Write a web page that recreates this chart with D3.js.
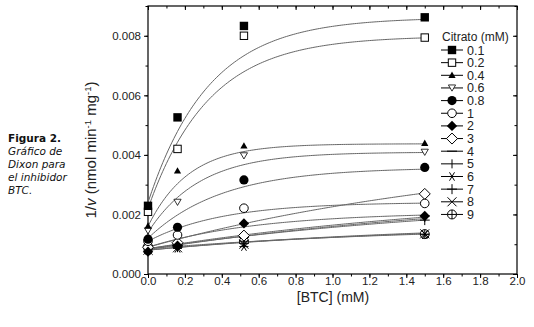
<!DOCTYPE html>
<html><head><meta charset="utf-8">
<script src="https://cdn.jsdelivr.net/npm/d3@7"></script>
<style>
body{margin:0;background:#fff;}
svg{display:block;}
</style></head><body>
<svg id="c" width="534" height="327"></svg>
<script>
// ---- data ----
const xValues = [0, 0.16, 0.52, 1.5];
const citrato = ["0.1","0.2","0.4","0.6","0.8","1","2","3","4","5","6","7","8","9"];
const symbols = ["sqF","sqO","triF","triDO","cirF","cirO","diaF","diaO","dash","vbar","star","plus","cross","cplus"];
const s01 = [0.00229, 0.00526, 0.00833, 0.00862];
const s02 = [0.00209, 0.00420, 0.00800, 0.00794];
const s04 = [0.00161, 0.00346, 0.00430, 0.00439];
const s06 = [0.00145, 0.00241, 0.00397, 0.00409];
const s08 = [0.00117, 0.00157, 0.00316, 0.00358];
const s1  = [0.00110, 0.00131, 0.00221, 0.00237];
const s2  = [0.00075, 0.00095, 0.00170, 0.00195];
const s3  = [0.00090, 0.00105, 0.00129, 0.00269];
const s4  = [0.00085, 0.00095, 0.00123, 0.00195];
const s5  = [0.00080, 0.00090, 0.00110, 0.00190];
const s6  = [0.00080, 0.00086, 0.00092, 0.00132];
const s7  = [0.00085, 0.00090, 0.00103, 0.00181];
const s8  = [0.00080, 0.00088, 0.00100, 0.00135];
const s9  = [0.00092, 0.00097, 0.00110, 0.00134];
const seriesValues = [s01,s02,s04,s06,s08,s1,s2,s3,s4,s5,s6,s7,s8,s9];
// fitted curves: value at 0, value at 1.5, curvature constant
const fitStart = [0.0024,0.0022,0.0016,0.0014,0.0012,0.0011,0.0009,0.0009,0.00085,0.00082,0.0008,0.00085,0.0008,0.00085];
const fitEnd   = [0.00855,0.00793,0.00437,0.00408,0.00352,0.00238,0.00198,0.00272,0.00191,0.00186,0.00138,0.00181,0.00136,0.00134];
const fitK     = [0.33,0.33,0.22,0.28,0.4,0.4,0.6,2,2,2,1.5,2,1.5,1.5];
const xTicks = [0,0.2,0.4,0.6,0.8,1.0,1.2,1.4,1.6,1.8,2.0];
const yTicks = [0,0.002,0.004,0.006,0.008];
const captionLines = ["Gráfico de","Dixon para","el inhibidor","BTC."];

// ---- drawing ----
const svg = d3.select("#c");
const L=148,R=517,T=6,B=274;
const x = d3.scaleLinear().domain([0,2]).range([L,R]);
const y = d3.scaleLinear().domain([0,0.009]).range([B,T]);
const font = "'Liberation Sans', Arial, sans-serif";
const tcol = "#222";

// frame
svg.append("rect").attr("x",L).attr("y",T).attr("width",R-L).attr("height",B-T)
  .attr("fill","none").attr("stroke","#000").attr("stroke-width",1.2);

function styleAxis(g){
  g.select(".domain").remove();
  g.selectAll("line").attr("stroke","#000").attr("stroke-width",1);
  g.selectAll("text").attr("font-family",font).attr("font-size",11.5).attr("fill",tcol);
}
const xMinor = d3.range(0,2.001,0.1);
const yMinor = d3.range(0,0.00901,0.001);
// bottom
const xb = svg.append("g").attr("transform",`translate(0,${B})`)
  .call(d3.axisBottom(x).tickValues(xTicks).tickFormat(d3.format(".1f")).tickSize(4)).call(styleAxis);
xb.selectAll("text").attr("y",3);
svg.append("g").attr("transform",`translate(0,${B})`)
  .call(d3.axisBottom(x).tickValues(xMinor).tickFormat("").tickSize(2.5)).call(styleAxis);
// top (inward)
svg.append("g").attr("transform",`translate(0,${T})`)
  .call(d3.axisTop(x).tickValues(xTicks).tickFormat("").tickSize(-4)).call(styleAxis);
svg.append("g").attr("transform",`translate(0,${T})`)
  .call(d3.axisTop(x).tickValues(xMinor).tickFormat("").tickSize(-2.5)).call(styleAxis);
// left
svg.append("g").attr("transform",`translate(${L},0)`)
  .call(d3.axisLeft(y).tickValues(yTicks).tickFormat(d3.format(".3f")).tickSize(4).tickPadding(3)).call(styleAxis);
svg.append("g").attr("transform",`translate(${L},0)`)
  .call(d3.axisLeft(y).tickValues(yMinor).tickFormat("").tickSize(2.5)).call(styleAxis);
// right (inward)
svg.append("g").attr("transform",`translate(${R},0)`)
  .call(d3.axisRight(y).tickValues(yTicks).tickFormat("").tickSize(-4)).call(styleAxis);
svg.append("g").attr("transform",`translate(${R},0)`)
  .call(d3.axisRight(y).tickValues(yMinor).tickFormat("").tickSize(-2.5)).call(styleAxis);

// fit curves
const line = d3.line().x(d=>x(d[0])).y(d=>y(d[1])).curve(d3.curveLinear);
citrato.forEach((c,i)=>{
  const k=fitK[i], a=fitStart[i], A=(fitEnd[i]-a)/(1-Math.exp(-1.5/k));
  const pts = d3.range(0,1.5001,0.01).map(t=>[t, a + A*(1-Math.exp(-t/k))]);
  svg.append("path").attr("d",line(pts)).attr("fill","none").attr("stroke","#666").attr("stroke-width",1);
});

// marker drawing
function marker(g, type, cx, cy){
  const s=4.2, sw=1;
  const st = {stroke:"#000","stroke-width":sw};
  function ap(el, attrs){ const e=g.append(el); for(const k in attrs) e.attr(k,attrs[k]); return e; }
  switch(type){
    case "sqF": ap("rect",{x:cx-s,y:cy-s,width:2*s,height:2*s,fill:"#000"}); break;
    case "sqO": ap("rect",{x:cx-s+0.5,y:cy-s+0.5,width:2*s-1,height:2*s-1,fill:"#fff",...st}); break;
    case "triF": ap("path",{d:`M${cx},${cy-3.8}L${cx+3.6},${cy+2.6}L${cx-3.6},${cy+2.6}Z`,fill:"#000"}); break;
    case "triDO": ap("path",{d:`M${cx},${cy+3.2}L${cx+3.6},${cy-3}L${cx-3.6},${cy-3}Z`,fill:"#fff",stroke:"#000","stroke-width":0.8}); break;
    case "cirF": ap("circle",{cx:cx,cy:cy,r:4.6,fill:"#000"}); break;
    case "cirO": ap("circle",{cx:cx,cy:cy,r:4.3,fill:"#fff",...st}); break;
    case "diaF": ap("path",{d:`M${cx},${cy-5.2}L${cx+5.2},${cy}L${cx},${cy+5.2}L${cx-5.2},${cy}Z`,fill:"#000"}); break;
    case "diaO": ap("path",{d:`M${cx},${cy-5.5}L${cx+5.5},${cy}L${cx},${cy+5.5}L${cx-5.5},${cy}Z`,fill:"#fff",...st}); break;
    case "dash": ap("line",{x1:cx-5,x2:cx+5,y1:cy,y2:cy,...st}); break;
    case "vbar": ap("line",{x1:cx,x2:cx,y1:cy-4.5,y2:cy+4.5,...st}); break;
    case "star":
      ap("line",{x1:cx-4.5,x2:cx+4.5,y1:cy,y2:cy,...st});
      ap("line",{x1:cx-2.5,x2:cx+2.5,y1:cy-4.2,y2:cy+4.2,...st});
      ap("line",{x1:cx+2.5,x2:cx-2.5,y1:cy-4.2,y2:cy+4.2,...st}); break;
    case "plus":
      ap("line",{x1:cx-5,x2:cx+5,y1:cy,y2:cy,...st});
      ap("line",{x1:cx,x2:cx,y1:cy-5,y2:cy+5,...st}); break;
    case "cross":
      ap("line",{x1:cx-4.5,x2:cx+4.5,y1:cy-4.5,y2:cy+4.5,...st});
      ap("line",{x1:cx-4.5,x2:cx+4.5,y1:cy+4.5,y2:cy-4.5,...st}); break;
    case "cplus":
      ap("circle",{cx:cx,cy:cy,r:4.5,fill:"#fff",...st});
      ap("line",{x1:cx-4.5,x2:cx+4.5,y1:cy,y2:cy,...st});
      ap("line",{x1:cx,x2:cx,y1:cy-4.5,y2:cy+4.5,...st}); break;
  }
}

// points (draw in reverse so upper series on top)
const pg = svg.append("g");
for(let i=citrato.length-1;i>=0;i--){
  seriesValues[i].forEach((v,j)=>marker(pg.append("g"), symbols[i], x(xValues[j]), y(v)));
}

// legend
const lg = svg.append("g");
lg.append("text").attr("x",442).attr("y",41).text("Citrato (mM)")
  .attr("font-family",font).attr("font-size",12).attr("fill",tcol);
citrato.forEach((c,i)=>{
  const yy = 50 + i*12.65;
  lg.append("line").attr("x1",441).attr("x2",463).attr("y1",yy).attr("y2",yy).attr("stroke","#000").attr("stroke-width",1);
  marker(lg.append("g"), symbols[i], 452, yy);
  lg.append("text").attr("x",467).attr("y",yy+4.5).text(c)
    .attr("font-family",font).attr("font-size",12.5).attr("fill",tcol);
});

// axis titles
svg.append("text").attr("x",333).attr("y",302).attr("text-anchor","middle")
  .attr("font-family",font).attr("font-size",14).attr("fill",tcol).text("[BTC] (mM)");
const yl = svg.append("text").attr("transform","translate(96,150) rotate(-90)").attr("text-anchor","middle")
  .attr("font-family",font).attr("font-size",15).attr("fill",tcol);
yl.append("tspan").text("1/");
yl.append("tspan").attr("font-style","italic").text("v");
yl.append("tspan").text(" (nmol min");
yl.append("tspan").attr("font-size",9.5).attr("dy",-5.5).text("-1");
yl.append("tspan").attr("dy",5.5).text(" mg");
yl.append("tspan").attr("font-size",9.5).attr("dy",-5.5).text("-1");
yl.append("tspan").attr("dy",5.5).text(")");

// caption
const cf = "'DejaVu Sans', Verdana, sans-serif";
svg.append("text").attr("x",8).attr("y",142).attr("font-family",cf).attr("font-size",10.5)
  .attr("font-weight","bold").attr("fill","#111").text("Figura 2.");
captionLines.forEach((t,i)=>{
  svg.append("text").attr("x",8).attr("y",155+i*13).attr("font-family",cf).attr("font-size",10.5)
    .attr("font-style","italic").attr("fill","#111").text(t);
});
</script>
</body></html>
